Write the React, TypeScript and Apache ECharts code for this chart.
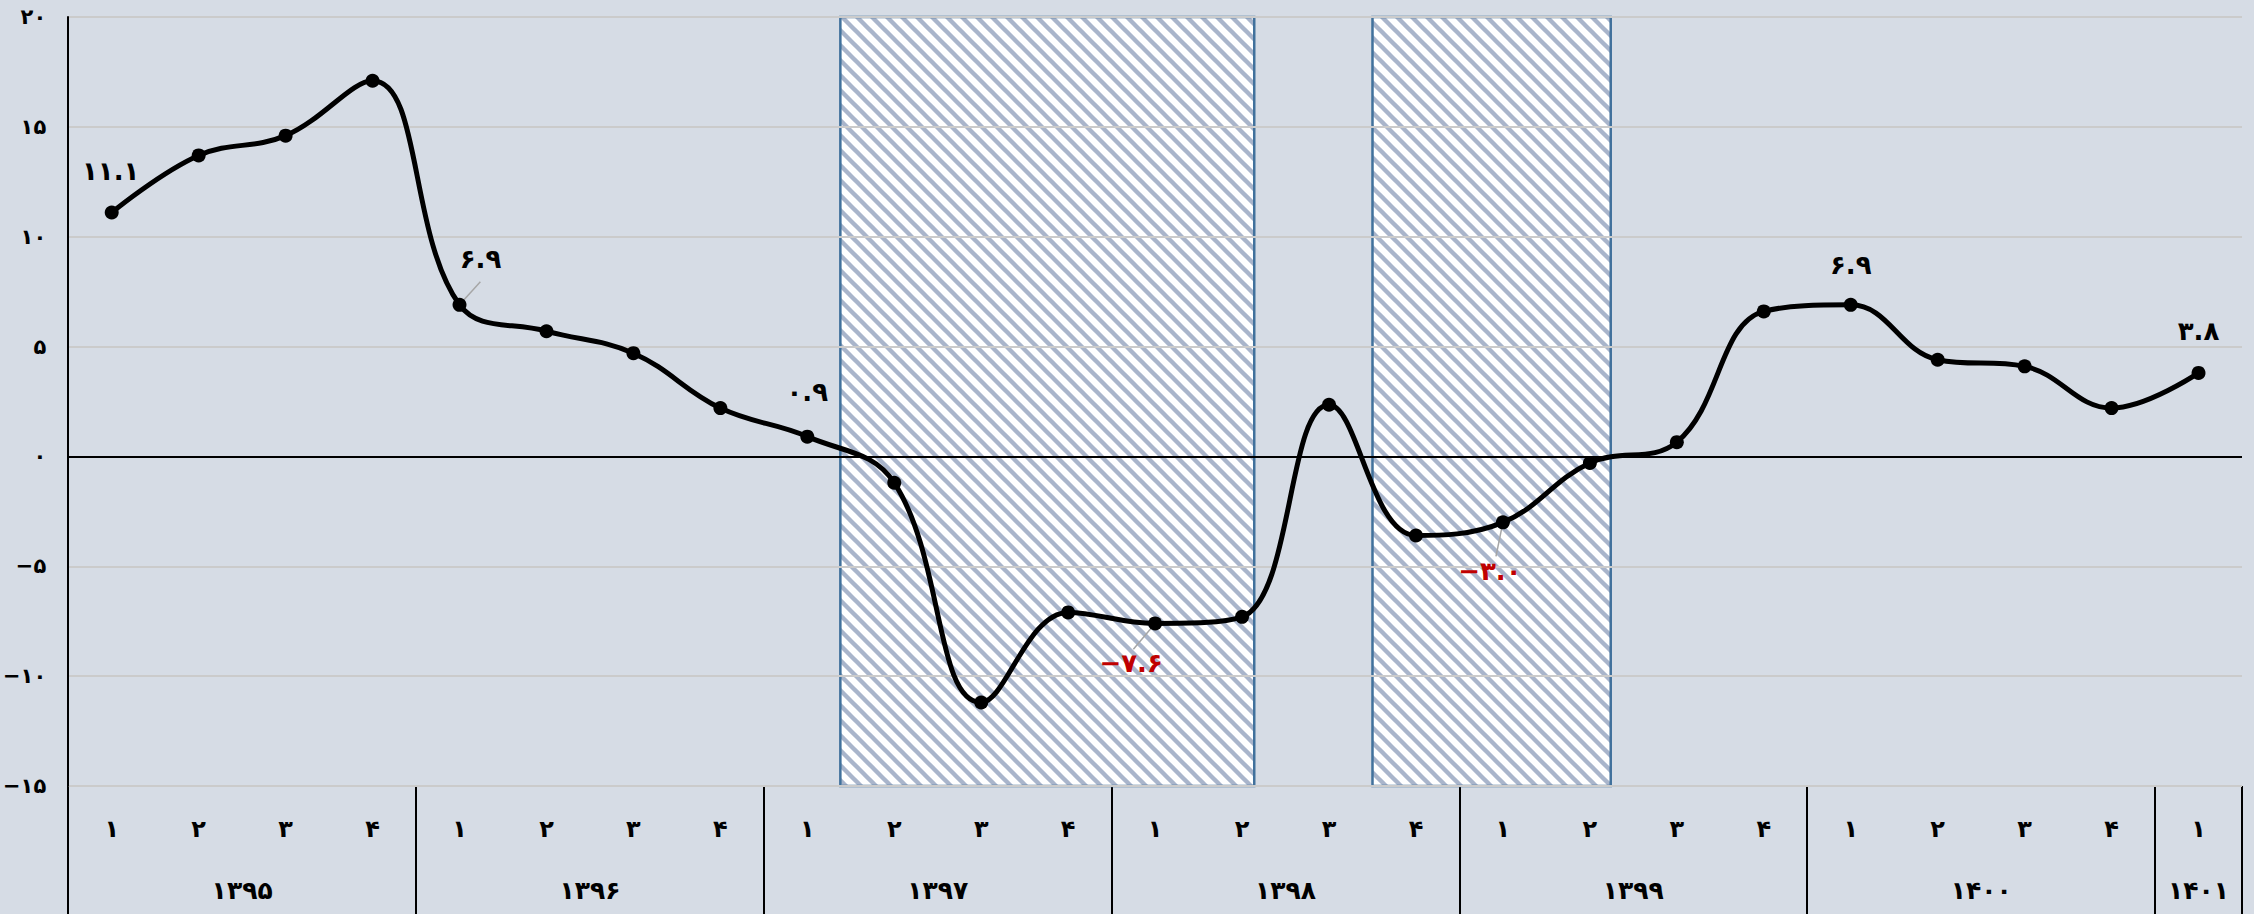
import React, { useEffect, useRef } from 'react';
import * as echarts from 'echarts';

// ---- data ----
const years = ['۱۳۹۵', '۱۳۹۶', '۱۳۹۷', '۱۳۹۸', '۱۳۹۹', '۱۴۰۰', '۱۴۰۱'];
const quartersPerYear = [4, 4, 4, 4, 4, 4, 1];
const quarterNames = ['۱', '۲', '۳', '۴'];
const growth = [
  11.1, 13.7, 14.6, 17.1,
  6.9, 5.7, 4.7, 2.2,
  0.9, -1.2, -11.2, -7.1,
  -7.6, -7.3, 2.35, -3.6,
  -3.0, -0.3, 0.65, 6.6,
  6.9, 4.4, 4.1, 2.2,
  3.8,
];
const labelledIndices = [0, 4, 8, 12, 16, 20, 24];
const leaderIndices = [4, 12, 16];
const yMin = -15;
const yMax = 20;
const yStep = 5;
// shaded periods, in quarter units from the left edge of the axis
const shadedRanges = [
  [8.88, 13.64],
  [15.0, 17.74],
];

const FONT = '"DejaVu Sans", "Noto Sans", sans-serif';

const toFa = (s: string) =>
  s.replace(/[0-9]/g, (d) => '۰۱۲۳۴۵۶۷۸۹'[+d]).replace('-', '−');

const categories: string[] = [];
quartersPerYear.forEach((n) => {
  for (let q = 0; q < n; q++) categories.push(quarterNames[q]);
});
const separators: number[] = [0];
const yearCenters: number[] = [];
{
  let acc = 0;
  quartersPerYear.forEach((n) => {
    yearCenters.push(acc + n / 2);
    acc += n;
    separators.push(acc);
  });
}

function makeHatch() {
  const P = 15;
  const c = document.createElement('canvas');
  c.width = P;
  c.height = P;
  const g = c.getContext('2d')!;
  g.fillStyle = '#ffffff';
  g.fillRect(0, 0, P, P);
  g.strokeStyle = '#a9b5cb';
  g.lineWidth = 4.4;
  for (const o of [-P, 0, P]) {
    g.beginPath();
    g.moveTo(o - 2, -2);
    g.lineTo(o + P + 2, P + 2);
    g.stroke();
  }
  return c;
}

const labelPlacement: Record<number, [number, number]> = {
  0: [-1, -42],
  4: [21, -46],
  8: [0, -45],
  12: [-24, 40],
  16: [-13, 49],
  20: [0, -40],
  24: [0, -42],
};
const leaderEnd: Record<number, [number, number]> = {
  4: [0.24, 1.05],
  12: [-0.25, -1.18],
  16: [-0.08, -1.55],
};

export default function App() {
  const ref = useRef<HTMLDivElement>(null);
  useEffect(() => {
    document.body.style.margin = '0';
    document.body.style.background = '#d6dce5';
    const chart = echarts.init(ref.current!, undefined, { renderer: 'svg' });
    const hatch = makeHatch();

    const mainData = growth.map((v, i) => {
      if (!labelledIndices.includes(i)) return v;
      const off = labelPlacement[i] || [0, -40];
      return {
        value: v,
        label: {
          show: true,
          position: 'inside',
          offset: off,
          color: v < 0 ? '#c00000' : '#000000',
        },
      };
    });

    chart.setOption({
      animation: false,
      backgroundColor: '#d6dce5',
      grid: { left: 65, right: 12, top: 17, bottom: 128, containLabel: false },
      xAxis: [
        {
          type: 'category',
          data: categories,
          boundaryGap: true,
          position: 'bottom',
          axisLine: { show: false, onZero: false },
          axisTick: { show: false },
          splitLine: { show: false },
          axisLabel: {
            interval: 0,
            margin: 31,
            fontSize: 24,
            fontWeight: 'bold',
            color: '#000',
            fontFamily: FONT,
          },
        },
        {
          type: 'value',
          min: 0,
          max: categories.length,
          position: 'bottom',
          axisLine: { show: false, onZero: false },
          splitLine: { show: false },
          axisTick: {
            show: true,
            customValues: separators,
            length: 128,
            lineStyle: { color: '#000', width: 2 },
          },
          axisLabel: {
            customValues: yearCenters,
            formatter: (v: number) => {
              const k = yearCenters.findIndex((c) => Math.abs(c - v) < 1e-6);
              return k >= 0 ? years[k] : '';
            },
            margin: 92,
            fontSize: 25,
            fontWeight: 'bold',
            color: '#000',
            fontFamily: FONT,
          },
        },
      ],
      yAxis: {
        type: 'value',
        min: yMin,
        max: yMax,
        interval: yStep,
        z: 2,
        axisLine: { show: true, onZero: false, lineStyle: { color: '#000', width: 2 } },
        axisTick: { show: false },
        splitLine: { show: true, lineStyle: { color: '#cbcbcb', width: 2 } },
        axisLabel: {
          formatter: (v: number) => toFa(String(v)),
          margin: 22,
          fontSize: 21,
          fontWeight: 'bold',
          color: '#000',
          fontFamily: FONT,
        },
      },
      series: [
        {
          type: 'line',
          xAxisIndex: 1,
          yAxisIndex: 0,
          data: [],
          z: 1,
          silent: true,
          markArea: {
            silent: true,
            z: 1,
            itemStyle: {
              color: { image: hatch, repeat: 'repeat' },
              borderColor: '#41719c',
              borderWidth: 2.5,
            },
            data: shadedRanges.map(([a, b]) => [
              { xAxis: a, yAxis: yMax },
              { xAxis: b, yAxis: yMin },
            ]),
          },
          markLine: {
            silent: true,
            z: 4,
            symbol: ['none', 'none'],
            label: { show: false },
            lineStyle: { color: '#a6a6a6', width: 1.5, type: 'solid' },
            data: leaderIndices.map((i) => [
              { coord: [i + 0.5, growth[i]] },
              { coord: [i + 0.5 + leaderEnd[i][0], growth[i] + leaderEnd[i][1]] },
            ]),
          },
        },
        {
          type: 'line',
          xAxisIndex: 0,
          yAxisIndex: 0,
          data: mainData,
          z: 5,
          smooth: 0.4,
          symbol: 'circle',
          symbolSize: 14,
          itemStyle: { color: '#000' },
          lineStyle: { color: '#000', width: 5 },
          label: {
            show: false,
            formatter: (p: any) => toFa(Number(p.value).toFixed(1)),
            fontSize: 26,
            fontWeight: 'bold',
            fontFamily: FONT,
          },
          markLine: {
            silent: true,
            z: 3,
            symbol: ['none', 'none'],
            label: { show: false },
            lineStyle: { color: '#000', width: 2, type: 'solid' },
            data: [{ yAxis: 0 }],
          },
        },
      ],
    });
    return () => chart.dispose();
  }, []);
  return (
    <div
      ref={ref}
      style={{ width: 2254, height: 914, background: '#d6dce5' }}
    />
  );
}
